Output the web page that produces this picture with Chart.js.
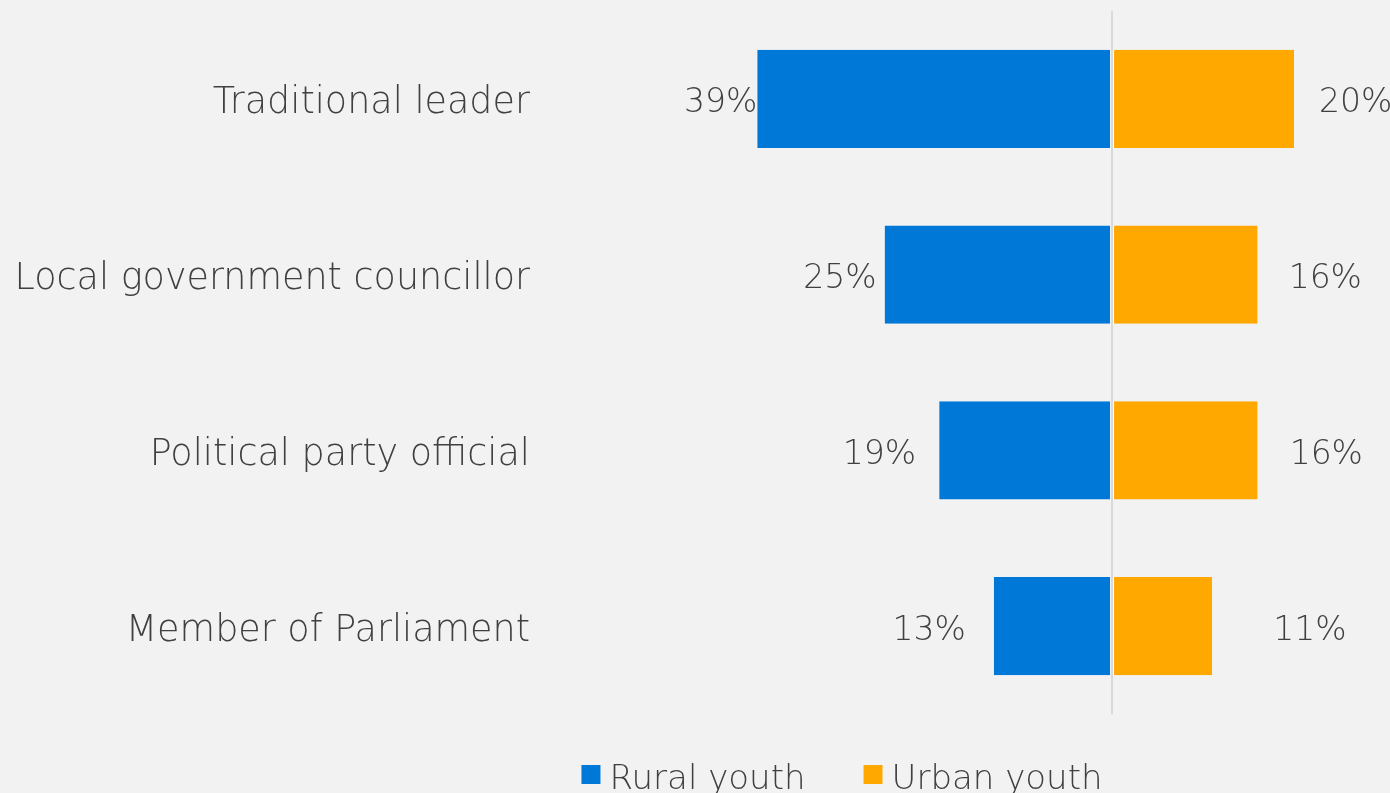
<!DOCTYPE html>
<html>
<head>
<meta charset="utf-8">
<title>Rural and urban youth</title>
<script src="https://cdn.jsdelivr.net/npm/chart.js@4.4.1/dist/chart.umd.min.js"></script>
<style>
  html, body { margin: 0; padding: 0; background: #f2f2f2; }
  #wrap { width: 1390px; height: 793px; }
</style>
</head>
<body>
<div id="wrap"><canvas id="youthChart" width="1390" height="793"></canvas></div>
<script>
// Data
const categories = ["Traditional leader", "Local government councillor", "Political party official", "Member of Parliament"];
const ruralYouth = [39, 25, 19, 13];
const urbanYouth = [20, 16, 16, 11];
const seriesNames = ["Rural youth", "Urban youth"];

// Styling
const BLUE = "#0078d7";
const ORANGE = "#ffa800";
const TEXT = "#404040";
const FONT = "'DejaVu Sans', sans-serif";
// space between each bar end and its value label
const ruralGap = [0, 8, 23, 28];
const urbanGap = [25, 31, 32, 61];

// Percent labels next to the bar ends
const valueLabels = {
    id: "valueLabels",
    afterDatasetsDraw(chart) {
        const ctx = chart.ctx;
        ctx.save();
        ctx.font = "300 33px " + FONT;
        ctx.fillStyle = TEXT;
        ctx.textBaseline = "middle";
        chart.data.datasets.forEach((ds, di) => {
            chart.getDatasetMeta(di).data.forEach((bar, i) => {
                const v = ds.data[i];
                const left = v < 0;
                const gap = (left ? ruralGap : urbanGap)[i];
                ctx.textAlign = left ? "right" : "left";
                ctx.fillText(Math.abs(v) + "%", left ? bar.x - gap : bar.x + gap, bar.y + 5);
            });
        });
        ctx.restore();
    },
};

// Legend under the plot
const bottomLegend = {
    id: "bottomLegend",
    afterDraw(chart) {
        const ctx = chart.ctx;
        const colors = [BLUE, ORANGE];
        const box = 19, textGap = 9, itemGap = 58;
        ctx.save();
        ctx.font = "300 34px " + FONT;
        ctx.textBaseline = "alphabetic";
        ctx.textAlign = "left";
        const widths = seriesNames.map((n) => ctx.measureText(n).width);
        const total = widths.reduce((s, w) => s + box + textGap + w, 0) + itemGap;
        let x = 842 - total / 2;
        seriesNames.forEach((name, i) => {
            ctx.fillStyle = colors[i];
            ctx.fillRect(x, 765, box, box);
            ctx.fillStyle = TEXT;
            ctx.fillText(name, x + box + textGap, 789);
            x += box + textGap + widths[i] + itemGap;
        });
        ctx.restore();
    },
};

const ctx = document.getElementById("youthChart").getContext("2d");
new Chart(ctx, {
    type: "bar",
    data: {
        labels: categories,
        datasets: [
            {
                label: seriesNames[0],
                data: ruralYouth.map((v) => -v),
                backgroundColor: BLUE,
                borderColor: "rgba(255,255,255,0.75)",
                borderWidth: { right: 1, left: 0, top: 0, bottom: 0 },
                borderSkipped: false,
            },
            {
                label: seriesNames[1],
                data: urbanYouth,
                backgroundColor: ORANGE,
                borderColor: "rgba(255,255,255,0.75)",
                borderWidth: { left: 1, right: 0, top: 0, bottom: 0 },
                borderSkipped: false,
            },
        ],
    },
    options: {
        indexAxis: "y",
        responsive: false,
        animation: false,
        layout: { padding: { top: 11, right: 5, bottom: 79, left: 0 } },
        datasets: { bar: { categoryPercentage: 1, barPercentage: 0.558 } },
        plugins: {
            legend: { display: false },
            tooltip: { enabled: false },
        },
        scales: {
            x: {
                stacked: true,
                min: -62,
                max: 30,
                ticks: { display: false, stepSize: 10 },
                border: { display: false },
                grid: {
                    drawTicks: false,
                    lineWidth: 2,
                    color: (c) => (c.tick && c.tick.value === 0 ? "#d9d9d9" : "rgba(0,0,0,0)"),
                },
                afterFit(scale) { scale.height = 0; },
            },
            y: {
                stacked: true,
                border: { display: false },
                grid: { display: false, drawTicks: false },
                ticks: {
                    color: TEXT,
                    padding: 18,
                    labelOffset: 5,
                    font: { family: FONT, size: 36.5, weight: 300 },
                },
                afterFit(scale) {
                    scale.width = 548;
                    scale.paddingTop = 0;
                    scale.paddingBottom = 0;
                },
            },
        },
    },
    plugins: [valueLabels, bottomLegend],
});
</script>
</body>
</html>
